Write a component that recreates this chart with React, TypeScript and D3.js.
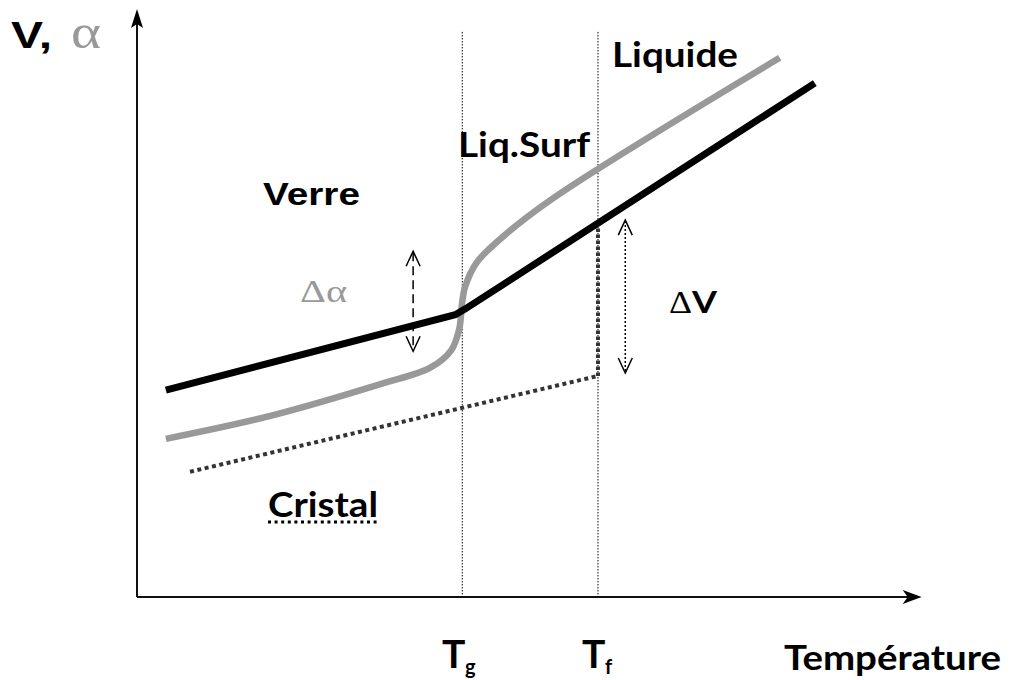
import React from 'react';
import * as d3 from 'd3';

// ---- data (abstract units: temperature 0..100, V/alpha 0..100) ----
const T_GLASS = 41.7;
const T_FUSION = 59.1;
const verticalTop = 96.1;

const glassVolume: [number, number][] = [
  [3.7, 35.2], [40.8, 48.0], [42.1, 49.0], [86.9, 87.4],
];
const expansionCoef: [number, number][] = [
  [3.7, 26.9], [17.1, 30.8], [31.2, 36.2], [37.6, 39.0], [40.3, 42.0],
  [41.3, 45.5], [41.7, 50.2], [42.05, 52.7], [43.5, 56.8],
  [46.5, 60.8], [53.0, 67.5], [82.4, 91.7],
];
const crystalVolume: [number, number][] = [[6.8, 21.3], [59.1, 37.6]];
const fusionJump: [number, number][] = [[T_FUSION, 37.6], [T_FUSION, 63.6]];

const deltaAlpha = { x: 35.4, y0: 41.8, y1: 58.8 };
const deltaV = { x: 62.6, y0: 38.1, y1: 64.1 };

const W = 1013, H = 680;
const x = d3.scaleLinear().domain([0, 100]).range([137, 917]);
const y = d3.scaleLinear().domain([0, 100]).range([597, 9]);

const lin = d3.line<[number, number]>().x(d => x(d[0])).y(d => y(d[1]));
const smooth = d3.line<[number, number]>().x(d => x(d[0])).y(d => y(d[1])).curve(d3.curveCatmullRom.alpha(0.5));

const geo = "Lato, 'Open Sans', sans-serif";
const serif = "'Liberation Serif', 'DejaVu Serif', serif";
const arial = "'Liberation Sans', Arial, sans-serif";

function chevron(px: number, py: number, dir: number) {
  return `M${px - 7},${py - dir * 15} L${px},${py} L${px + 7},${py - dir * 15}`;
}

function DoubleArrow({ a, dash }: { a: { x: number; y0: number; y1: number }; dash: string }) {
  const px = x(a.x);
  const top = y(a.y1), bot = y(a.y0);
  return (
    <g stroke="#000" fill="none" strokeWidth={1.5}>
      <line x1={px} x2={px} y1={top + 1} y2={bot - 1} strokeDasharray={dash} />
      <path d={chevron(px, top, -1)} />
      <path d={chevron(px, bot, 1)} />
    </g>
  );
}

export default function App() {
  const ox = x(0), oy = y(0);
  const xt = x(100.6), yt = y(100);
  return (
    <svg width={W} height={H} style={{ position: 'absolute', left: 0, top: 0, background: '#fff' }}>
      {/* axes */}
      <line x1={ox} y1={oy} x2={xt - 10} y2={oy} stroke="#111" strokeWidth={2} />
      <line x1={ox} y1={oy} x2={ox} y2={yt + 10} stroke="#111" strokeWidth={2} />
      <path d={`M${xt},${oy} L${xt - 19},${oy - 7} L${xt - 14},${oy} L${xt - 19},${oy + 7} Z`} fill="#000" />
      <path d={`M${ox},${yt} L${ox - 6},${yt + 19} L${ox},${yt + 15} L${ox + 6},${yt + 19} Z`} fill="#000" />

      {/* Tg and Tf verticals */}
      {[T_GLASS, T_FUSION].map((t, i) => (
        <line key={i} x1={x(t)} x2={x(t)} y1={y(verticalTop)} y2={oy} stroke="#000" strokeWidth={1} strokeDasharray="1.5,1.5" />
      ))}

      {/* crystal line */}
      <path d={lin(crystalVolume)!} fill="none" stroke="#333" strokeWidth={4} strokeDasharray="4,3.5" />
      <path d={lin(fusionJump)!} fill="none" stroke="#333" strokeWidth={4} strokeDasharray="3.5,2.5" />

      {/* expansion coefficient (gray) */}
      <path d={smooth(expansionCoef)!} fill="none" stroke="#999" strokeWidth={6.5} />
      {/* volume (black) */}
      <path d={lin(glassVolume)!} fill="none" stroke="#000" strokeWidth={7} />

      <DoubleArrow a={deltaAlpha} dash="9,5" />
      <DoubleArrow a={deltaV} dash="2,2" />

      {/* labels */}
      <text x={11} y={48} fontFamily={arial} fontWeight="bold" fontSize={37} textLength={41} lengthAdjust="spacingAndGlyphs">V,</text>
      <text x={71} y={48} fontFamily={serif} fontSize={48} fill="#999" textLength={30} lengthAdjust="spacingAndGlyphs">α</text>
      <text x={263} y={205} fontFamily={arial} fontWeight="bold" fontSize={31} textLength={97} lengthAdjust="spacingAndGlyphs">Verre</text>
      <text x={300} y={302} fontFamily={serif} fontSize={31} fill="#999" textLength={47} lengthAdjust="spacingAndGlyphs">Δα</text>
      <text x={458} y={157} fontFamily={geo} fontWeight="bold" fontSize={34} textLength={132} lengthAdjust="spacingAndGlyphs">Liq.Surf</text>
      <text x={612} y={67} fontFamily={geo} fontWeight="bold" fontSize={34} textLength={126} lengthAdjust="spacingAndGlyphs">Liquide</text>
      <text x={669} y={313} fontFamily={geo} fontWeight="bold" fontSize={31} textLength={48} lengthAdjust="spacingAndGlyphs">
        <tspan fontFamily={serif} fontWeight="normal">Δ</tspan>V
      </text>
      <text x={268} y={517} fontFamily={geo} fontWeight="bold" fontSize={34} textLength={110} lengthAdjust="spacingAndGlyphs">Cristal</text>
      <line x1={268} x2={379} y1={522} y2={522} stroke="#000" strokeWidth={3} strokeDasharray="3,3.6" />

      <text x={442} y={668} fontFamily={geo} fontWeight="bold" fontSize={39}>T</text>
      <text x={465} y={674} fontFamily={geo} fontWeight="bold" fontSize={20}>g</text>
      <text x={582} y={668} fontFamily={geo} fontWeight="bold" fontSize={39}>T</text>
      <text x={605} y={674} fontFamily={geo} fontWeight="bold" fontSize={20}>f</text>
      <text x={784} y={670} fontFamily={geo} fontWeight="bold" fontSize={34} textLength={217} lengthAdjust="spacingAndGlyphs">Température</text>
    </svg>
  );
}
